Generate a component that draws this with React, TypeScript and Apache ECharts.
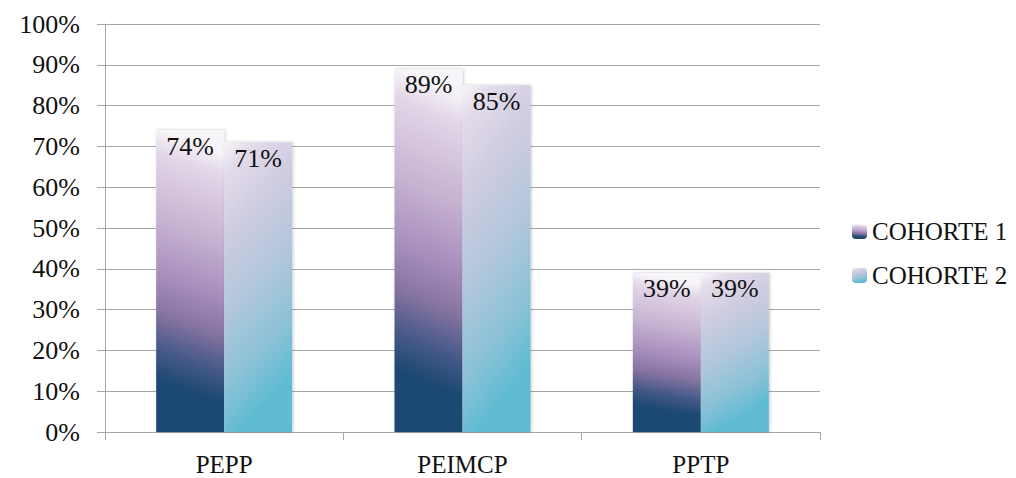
import React, { useEffect, useRef } from "react";
import * as echarts from "echarts";

const categories = ["PEPP", "PEIMCP", "PPTP"];
const seriesNames = ["COHORTE 1", "COHORTE 2"];
const cohorte1 = [74, 89, 39];
const cohorte2 = [71, 85, 39];
const yTicks = [0, 10, 20, 30, 40, 50, 60, 70, 80, 90, 100];

const FONT = "Liberation Serif";

const grad1 = new echarts.graphic.LinearGradient(0.08, 0, 0, 1, [
  { offset: 0, color: "#f8f5f9" },
  { offset: 0.08, color: "#e2d6e8" },
  { offset: 0.3, color: "#c6b2d1" },
  { offset: 0.48, color: "#a68ebd" },
  { offset: 0.6, color: "#8874a2" },
  { offset: 0.73, color: "#435887" },
  { offset: 0.82, color: "#1f4a73" },
  { offset: 1, color: "#1f4a73" },
]);

const grad2 = new echarts.graphic.LinearGradient(0, 0, 0.25, 1, [
  { offset: 0, color: "#f8f6fa" },
  { offset: 0.1, color: "#e3dcea" },
  { offset: 0.3, color: "#d0cce1" },
  { offset: 0.55, color: "#b4c7dc" },
  { offset: 0.8, color: "#8cc2d7" },
  { offset: 1, color: "#5ebbd2" },
]);

export default function App() {
  const ref = useRef<HTMLDivElement>(null);

  useEffect(() => {
    document.body.style.margin = "0";
    if (!ref.current) return;
    const chart = echarts.init(ref.current, undefined, { renderer: "svg" });
    const labelCfg = {
      show: true,
      position: "insideTop" as const,
      distance: 3,
      fontFamily: FONT,
      fontSize: 26,
      color: "#111",
      formatter: (p: any) => `${p.value}%`,
    };
    chart.setOption({
      animation: false,
      backgroundColor: "#ffffff",
      grid: { left: 105, right: 196, top: 24, bottom: 46, containLabel: false },
      legend: {
        orient: "vertical",
        left: 847,
        top: 214,
        itemWidth: 15,
        itemHeight: 15,
        itemGap: 19,
        textStyle: { fontFamily: FONT, fontSize: 25, color: "#111" },
        data: seriesNames,
      },
      xAxis: {
        type: "category",
        data: categories,
        axisLine: { lineStyle: { color: "#a6a6a6" } },
        axisTick: { show: true, length: 8, lineStyle: { color: "#a6a6a6" } },
        axisLabel: { fontFamily: FONT, fontSize: 25, color: "#111", margin: 20 },
      },
      yAxis: {
        type: "value",
        min: yTicks[0],
        max: yTicks[yTicks.length - 1],
        interval: 10,
        axisLine: { show: true, lineStyle: { color: "#a6a6a6" } },
        axisTick: { show: true, length: 8, lineStyle: { color: "#a6a6a6" } },
        splitLine: { lineStyle: { color: "#a6a6a6" } },
        axisLabel: {
          fontFamily: FONT,
          fontSize: 26,
          color: "#111",
          margin: 25,
          formatter: (v: number) => `${v}%`,
        },
      },
      series: [
        {
          name: seriesNames[0],
          type: "bar",
          data: cohorte1,
          barWidth: 68,
          barGap: "0%",
          itemStyle: {
            color: grad1,
            shadowColor: "rgba(0,0,0,0.22)",
            shadowBlur: 3,
            shadowOffsetX: 1,
          },
          label: labelCfg,
        },
        {
          name: seriesNames[1],
          type: "bar",
          data: cohorte2,
          barWidth: 68,
          barGap: "0%",
          itemStyle: {
            color: grad2,
            shadowColor: "rgba(0,0,0,0.22)",
            shadowBlur: 3,
            shadowOffsetX: 1,
          },
          label: labelCfg,
        },
      ],
    });
    return () => chart.dispose();
  }, []);

  return <div ref={ref} style={{ width: 1016, height: 478 }} />;
}
